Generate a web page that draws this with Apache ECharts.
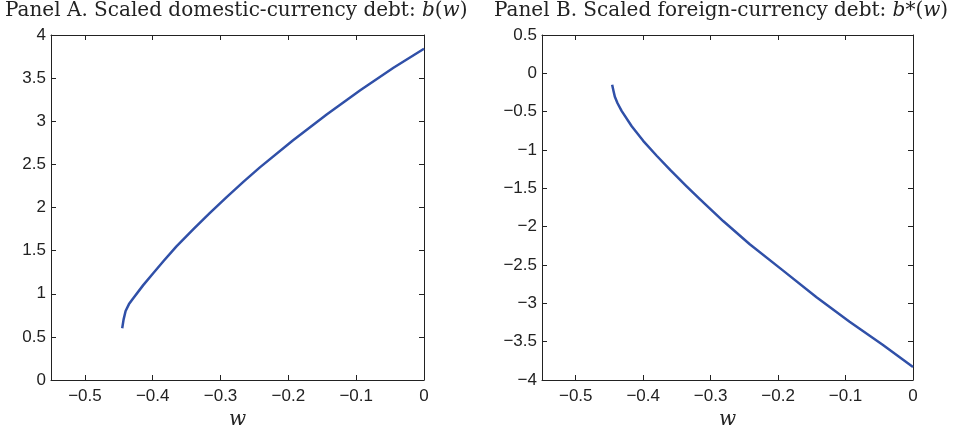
<!DOCTYPE html>
<html>
<head>
<meta charset="utf-8">
<script src="https://cdn.jsdelivr.net/npm/echarts@6/dist/echarts.min.js"></script>
<style>
html,body{margin:0;padding:0;background:#fff;}
#c{width:953px;height:426px;}
</style>
</head>
<body>
<div id="c"></div>
<script>
// Panel A: scaled domestic-currency debt b(w)
const wA = [-0.445, -0.443, -0.440, -0.435, -0.429, -0.414, -0.399, -0.384, -0.365, -0.340, -0.316, -0.291, -0.266, -0.242, -0.193, -0.143, -0.094, -0.045, 0.0];
const bA = [0.60, 0.70, 0.80, 0.88, 0.945, 1.10, 1.24, 1.38, 1.55, 1.75, 1.935, 2.12, 2.30, 2.465, 2.78, 3.08, 3.36, 3.62, 3.84];
// Panel B: scaled foreign-currency debt b*(w)
const wB = [-0.446, -0.444, -0.442, -0.438, -0.432, -0.417, -0.400, -0.380, -0.360, -0.336, -0.316, -0.281, -0.242, -0.193, -0.143, -0.094, -0.045, 0.0];
const bB = [-0.15, -0.23, -0.305, -0.39, -0.49, -0.69, -0.88, -1.075, -1.26, -1.47, -1.64, -1.93, -2.23, -2.57, -2.92, -3.24, -3.54, -3.83];
// tick values
const xTicks = [-0.5, -0.4, -0.3, -0.2, -0.1, 0];
const titleA = 'Panel A. Scaled domestic-currency debt: ';
const titleB = 'Panel B. Scaled foreign-currency debt: ';

const chart = echarts.init(document.getElementById('c'), null, {renderer: 'canvas'});
const axisCol = '#222';
const lineCol = '#3050a8';
const fmt = v => String(v).replace('-', '\u2212');
const serif = '"DejaVu Serif", "Liberation Serif", serif';
const sans = '"Liberation Sans", Arial, sans-serif';

function xAx(grid, pos, showLabel) {
  return {
    type: 'value', gridIndex: grid, position: pos, min: -0.55, max: 0,
    axisLine: {onZero: false, lineStyle: {color: axisCol, width: 1}},
    axisTick: {inside: true, length: 5, customValues: xTicks, lineStyle: {color: axisCol}},
    axisLabel: {show: showLabel, customValues: xTicks, formatter: fmt, fontFamily: sans, fontSize: 17, color: axisCol, margin: 8},
    splitLine: {show: false},
    name: showLabel ? 'w' : '', nameLocation: 'middle', nameGap: 30,
    nameTextStyle: {fontFamily: serif, fontStyle: 'italic', fontSize: 20, color: axisCol}
  };
}
function yAx(grid, pos, min, max, showLabel) {
  return {
    type: 'value', gridIndex: grid, position: pos, min: min, max: max, interval: 0.5,
    axisLine: {show: true, onZero: false, lineStyle: {color: axisCol, width: 1}},
    axisTick: {show: true, inside: true, length: 5, lineStyle: {color: axisCol}},
    axisLabel: {show: showLabel, formatter: fmt, fontFamily: sans, fontSize: 17, color: axisCol, margin: 5},
    splitLine: {show: false}
  };
}
const rich = {
  n: {fontFamily: serif, fontSize: 20, fontWeight: 'normal', color: '#222'},
  i: {fontFamily: serif, fontSize: 20, fontWeight: 'normal', fontStyle: 'italic', color: '#222'}
};

chart.setOption({
  animation: false,
  backgroundColor: '#fff',
  title: [
    {text: '{n|' + titleA + '}{i|b}{n|(}{i|w}{n|)}', left: 5, top: 1, padding: 0, textStyle: {fontWeight: 'normal', rich: rich}},
    {text: '{n|' + titleB + '}{i|b}{n|*(}{i|w}{n|)}', left: 494, top: 1, padding: 0, textStyle: {fontWeight: 'normal', rich: rich}}
  ],
  grid: [
    {left: 51, right: 529, top: 35, bottom: 46, outerBoundsMode: 'none'},
    {left: 542, right: 40, top: 35, bottom: 46, outerBoundsMode: 'none'}
  ],
  xAxis: [xAx(0, 'bottom', true), xAx(0, 'top', false), xAx(1, 'bottom', true), xAx(1, 'top', false)],
  yAxis: [yAx(0, 'left', 0, 4, true), yAx(0, 'right', 0, 4, false), yAx(1, 'left', -4, 0.5, true), yAx(1, 'right', -4, 0.5, false)],
  series: [
    {type: 'line', xAxisIndex: 0, yAxisIndex: 0, data: wA.map((w, i) => [w, bA[i]]), showSymbol: false, smooth: false, lineStyle: {color: lineCol, width: 2.5, join: 'round'}},
    {type: 'line', xAxisIndex: 2, yAxisIndex: 2, data: wB.map((w, i) => [w, bB[i]]), showSymbol: false, smooth: false, lineStyle: {color: lineCol, width: 2.5, join: 'round'}}
  ]
});
</script>
</body>
</html>
